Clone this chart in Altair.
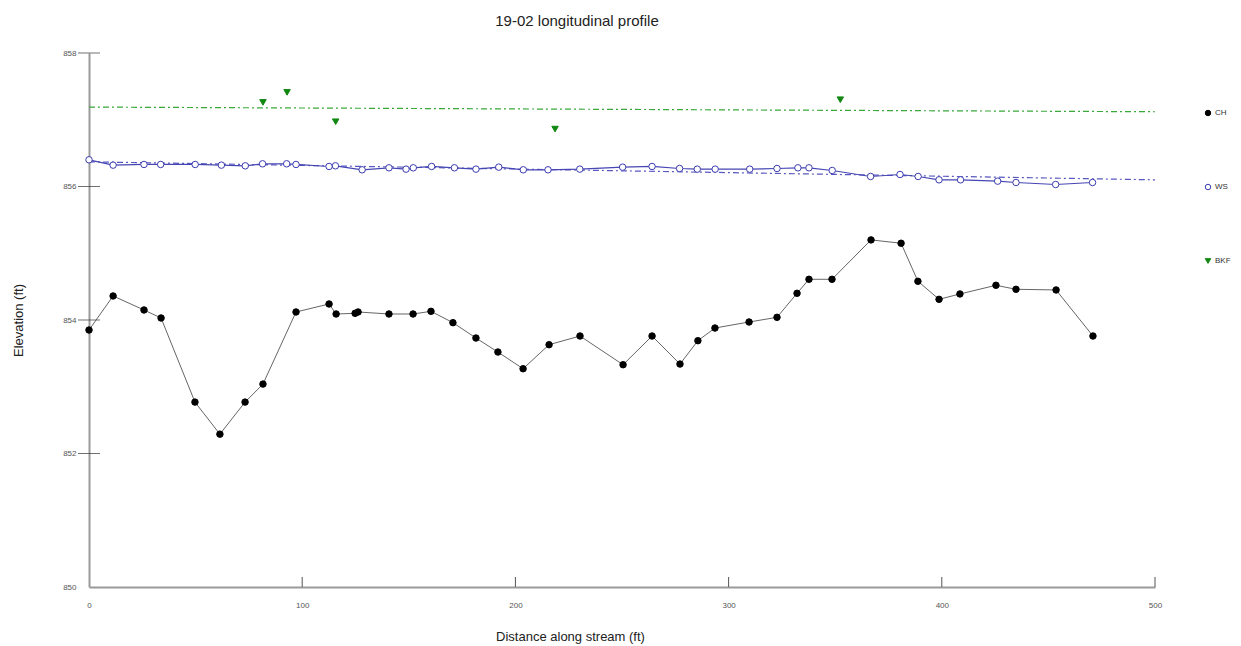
import altair as alt
import pandas as pd

# ---- data ----
CH_X = [0, 11.3, 25.8, 33.8, 49.7, 61.4, 73.2, 81.6, 97.1, 112.6, 115.9, 124.8, 126.2, 140.7, 152.0,
        160.4, 170.7, 181.5, 191.8, 203.6, 215.8, 230.3, 250.5, 264.1, 277.2, 285.6, 293.6, 309.6,
        322.7, 332.1, 337.7, 348.5, 366.8, 380.9, 388.8, 398.7, 408.5, 425.4, 434.8, 453.6, 470.9]
CH_Y = [853.85, 854.36, 854.15, 854.03, 852.77, 852.29, 852.77, 853.04, 854.12, 854.24, 854.09,
        854.10, 854.12, 854.09, 854.09, 854.13, 853.96, 853.73, 853.52, 853.27, 853.63, 853.76,
        853.33, 853.76, 853.34, 853.69, 853.88, 853.97, 854.04, 854.40, 854.61, 854.61, 855.20,
        855.15, 854.58, 854.31, 854.39, 854.52, 854.46, 854.45, 853.76]

WS_X = [0, 11.3, 25.8, 33.6, 49.8, 62.1, 73.3, 81.4, 92.7, 97.1, 112.6, 115.6, 128.1, 140.7, 148.7,
        152.1, 160.7, 171.4, 181.5, 192.2, 203.7, 215.3, 230.2, 250.3, 264.1, 277.0, 285.3, 293.7,
        309.9, 322.7, 332.5, 337.7, 348.6, 366.6, 380.4, 388.9, 398.7, 408.8, 426.2, 434.8, 453.4, 470.7]
WS_Y = [856.40, 856.32, 856.33, 856.33, 856.33, 856.32, 856.31, 856.34, 856.34, 856.33, 856.30,
        856.31, 856.25, 856.28, 856.26, 856.28, 856.30, 856.28, 856.26, 856.29, 856.25, 856.25,
        856.26, 856.29, 856.30, 856.27, 856.26, 856.26, 856.26, 856.27, 856.28, 856.28, 856.24,
        856.15, 856.18, 856.15, 856.10, 856.10, 856.08, 856.06, 856.03, 856.06]

BKF_X = [81.6, 92.9, 115.7, 218.6, 352.4]
BKF_Y = [857.26, 857.41, 856.97, 856.86, 857.30]

# slope (trend) lines
FIT_X = [0, 500]
WS_FIT_Y = [856.37, 856.10]
BKF_FIT_Y = [857.19, 857.12]

SERIES = ["CH", "WS", "BKF"]
X_TICKS = [0, 100, 200, 300, 400, 500]
Y_TICKS = [850, 852, 854, 856, 858]

W, H = 1066, 534
FONT = "Liberation Sans"

ch = pd.DataFrame({"x": CH_X, "y": CH_Y, "series": "CH"})
ws = pd.DataFrame({"x": WS_X, "y": WS_Y, "series": "WS"})
bkf = pd.DataFrame({"x": BKF_X, "y": BKF_Y, "series": "BKF"})
pts = pd.concat([ch, ws, bkf], ignore_index=True)
ws_fit = pd.DataFrame({"x": FIT_X, "y": WS_FIT_Y})
bkf_fit = pd.DataFrame({"x": FIT_X, "y": BKF_FIT_Y})
ytick_df = pd.DataFrame({"x": [0] * 4, "y": Y_TICKS[1:]})
xtick_df = pd.DataFrame({"x": X_TICKS[1:], "y": [850] * 5, "y2": [850.15] * 5})

xs = alt.Scale(domain=[0, 500], nice=False, zero=False)
ys = alt.Scale(domain=[850, 858], nice=False, zero=False)

x_axis = alt.Axis(values=X_TICKS, ticks=False, grid=False, domainColor="#9a9a9a", domainWidth=2,
                  labelFontSize=8, labelColor="#555", labelFont=FONT, labelPadding=14, labelFlush=False,
                  format="d",
                  titleFontSize=13, titleFontWeight="normal", titleColor="#222", titleFont=FONT,
                  titleX=481, titleY=49, titleBaseline="middle", titleAlign="center")
y_axis = alt.Axis(values=Y_TICKS, ticks=False, grid=False, domainColor="#9a9a9a", domainWidth=2,
                  labelFontSize=8, labelColor="#555", labelFont=FONT, labelPadding=13, labelFlush=False,
                  format="d",
                  titleFontSize=13, titleFontWeight="normal", titleColor="#222", titleFont=FONT,
                  titleX=-71, titleY=267, titleBaseline="middle", titleAlign="center", titleAngle=-90)

X = alt.X("x:Q", scale=xs, axis=x_axis, title="Distance along stream (ft)")
Y = alt.Y("y:Q", scale=ys, axis=y_axis, title="Elevation (ft)")

base_x = alt.X("x:Q", scale=xs)
base_y = alt.Y("y:Q", scale=ys)

axes_layer = alt.Chart(ch).mark_point(opacity=0).encode(x=X, y=Y)

bkf_line = alt.Chart(bkf_fit).mark_line(color="#3aa83a", strokeWidth=1.2, strokeDash=[6, 3, 2, 3]).encode(
    x=base_x, y=base_y)
ws_fit_line = alt.Chart(ws_fit).mark_line(color="#5858c0", strokeWidth=1.2, strokeDash=[6, 3, 2, 3]).encode(
    x=base_x, y=base_y)
ws_line = alt.Chart(ws).mark_line(color="#4646b4", strokeWidth=1.2).encode(x=base_x, y=base_y)
ch_line = alt.Chart(ch).mark_line(color="#666666", strokeWidth=1).encode(x=base_x, y=base_y)

yticks = alt.Chart(ytick_df).mark_tick(orient="horizontal", size=22, thickness=1, color="#333").encode(
    x=base_x, y=base_y)
xticks = alt.Chart(xtick_df).mark_rule(color="#555", strokeWidth=1).encode(
    x=base_x, y=base_y, y2="y2:Q")

LEG = alt.Legend(title=None, orient="none", legendX=1115, legendY=56, rowPadding=64,
                 labelFontSize=8, labelColor="#333", labelFont=FONT, symbolSize=30,
                 symbolStrokeWidth=1, labelOffset=3)

points = alt.Chart(pts).mark_point(size=42, opacity=1, strokeWidth=1).encode(
    x=base_x, y=base_y,
    fill=alt.Fill("series:N", scale=alt.Scale(domain=SERIES, range=["#000000", "#ffffff", "#118811"]), legend=LEG),
    stroke=alt.Stroke("series:N", scale=alt.Scale(domain=SERIES, range=["#000000", "#3b3bb0", "#118811"]), legend=LEG),
    shape=alt.Shape("series:N", scale=alt.Scale(domain=SERIES, range=["circle", "circle", "triangle-down"]), legend=LEG),
)

chart = alt.layer(axes_layer, bkf_line, ws_fit_line, ws_line, ch_line, yticks, xticks, points).properties(
    width=W, height=H,
    title=alt.TitleParams("19-02 longitudinal profile", fontSize=15, font=FONT, fontWeight="normal",
                          color="#222", anchor="middle", dx=-45, offset=20),
    padding={"left": 89, "top": 53, "right": 86, "bottom": 59},
    autosize=alt.AutoSizeParams(type="none"),
).configure_view(stroke=None)

chart.save("out.html", embed_options={"renderer": "svg", "actions": False})
